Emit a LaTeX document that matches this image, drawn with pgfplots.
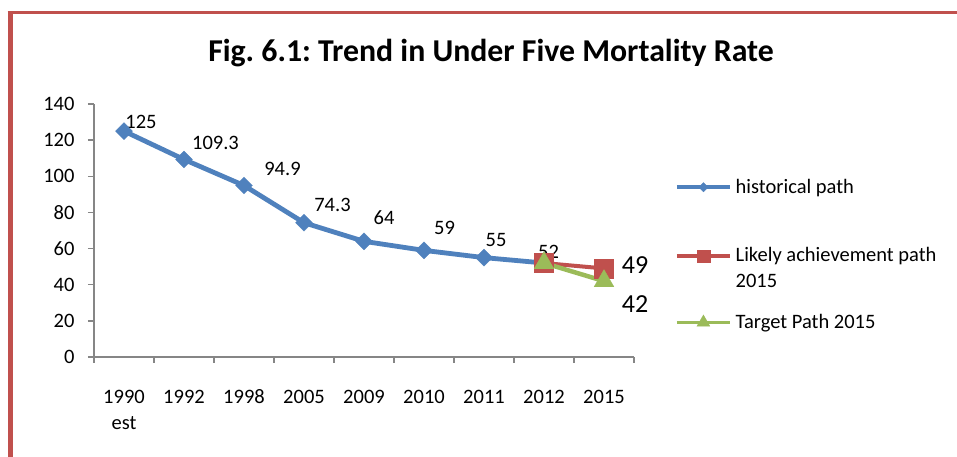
\documentclass[border=0pt]{standalone}
\usepackage{fontspec}
\setmainfont{Carlito}
\usepackage{pgfplots}
\pgfplotsset{compat=1.18}
\definecolor{hblue}{RGB}{79,129,189}
\definecolor{hred}{RGB}{192,80,77}
\definecolor{hgreen}{RGB}{155,187,89}
\definecolor{axgray}{RGB}{134,134,134}
\definecolor{frame}{RGB}{192,80,77}
\newcommand\lab{\fontsize{20.5bp}{26bp}\selectfont}
\newcommand\biglab{\fontsize{26bp}{30bp}\selectfont}
\newcommand\xs{\rule{0pt}{14bp}}
\frenchspacing

\begin{document}
\begin{tikzpicture}
\path[use as bounding box, fill=white] (0,0) rectangle (957bp,457bp);
\draw[frame, line width=3bp] (7.5bp,444.5bp) -- (957bp,444.5bp);
\draw[frame, line width=5bp] (10bp,0bp) -- (10bp,446bp);
\node[anchor=base, font=\fontsize{31.8bp}{36bp}\selectfont\bfseries] at (491bp,395bp)
  {Fig. 6.1: Trend in Under Five Mortality Rate};

\begin{axis}[
  scale only axis, width=540bp, height=253bp,
  at={(94bp,100bp)}, anchor=south west,
  xmin=-0.5, xmax=8.5, ymin=0, ymax=140,
  clip=false,
  axis x line*=bottom, axis y line*=left,
  axis line style={-, draw=axgray, line width=1.5bp},
  tick align=outside,
  ytick={0,20,...,140},
  major tick length=6bp, minor tick length=6bp,
  y tick style={draw=axgray, line width=1.5bp},
  xtick={0,...,8},
  xticklabels={{\xs1990\\est},\xs1992,\xs1998,\xs2005,\xs2009,\xs2010,\xs2011,\xs2012,\xs2015},
  minor xtick={-0.5,0.5,...,8.5},
  major x tick style={draw=none},
  minor x tick style={draw=axgray, line width=1.5bp},
  xticklabel style={font=\lab, align=center, anchor=north, yshift=-22.5bp},
  yticklabel style={font=\lab, xshift=-10bp},
  /pgf/number format/assume math mode=true,
  legend style={draw=none, fill=none, inner sep=0pt, row sep=26.8bp,
    at={(axis description cs:1.0759,0.6996)}, anchor=north west,
    nodes={inner sep=0pt, inner xsep=4bp, text height=13bp, text depth=,
      font=\lab, anchor=base west}},
  legend cell align=left,
  legend image code/.code={\draw[#1, mark repeat=2, mark phase=2]
    plot coordinates {(0bp,6bp)(26.5bp,6bp)(53bp,6bp)};},
]
\addlegendimage{hblue, line width=3.5bp, mark=square*,
  mark options={rotate=45, mark size=3.3bp, line width=0.3bp, fill=hblue}}
\addlegendentry{historical path\rule[-29bp]{0pt}{1bp}}
\addlegendimage{hred, line width=3.5bp, mark=square*,
  mark options={mark size=6.3bp, line width=0.3bp, fill=hred}}
\addlegendentry{\parbox[t]{230bp}{Likely achievement path\\2015}}
\addlegendimage{hgreen, line width=3.5bp, mark=triangle*,
  mark options={mark size=7.5bp, line width=0.3bp, fill=hgreen}}
\addlegendentry{Target Path 2015}

\addplot[forget plot, hblue, line width=4.8bp, mark=square*,
  mark options={rotate=45, mark size=6bp, line width=0.3bp, fill=hblue}]
  coordinates {(0,125)(1,109.3)(2,94.9)(3,74.3)(4,64)(5,59)(6,55)(7,52)};
\addplot[forget plot, hred, line width=4bp, mark=square*,
  mark options={mark size=9.5bp, line width=0.3bp, fill=hred}]
  coordinates {(7,52)(8,49)};
\addplot[forget plot, hgreen, line width=4.5bp, mark=triangle*,
  mark options={mark size=11.5bp, line width=0.3bp, fill=hgreen}]
  coordinates {(7,52)(8,42)};

\node[font=\lab, xshift=17bp, yshift=9.5bp] at (axis cs:0,125) {125};
\node[font=\lab, xshift=31.5bp, yshift=17bp] at (axis cs:1,109.3) {109.3};
\node[font=\lab, xshift=38.5bp, yshift=17bp] at (axis cs:2,94.9) {94.9};
\node[font=\lab, xshift=28.5bp, yshift=18bp] at (axis cs:3,74.3) {74.3};
\node[font=\lab, xshift=20bp, yshift=24bp] at (axis cs:4,64) {64};
\node[font=\lab, xshift=20.5bp, yshift=22bp] at (axis cs:5,59) {59};
\node[font=\lab, xshift=12bp, yshift=17.5bp] at (axis cs:6,55) {55};
\node[font=\lab, xshift=4.5bp, yshift=11.5bp] at (axis cs:7,52) {52};
\node[font=\biglab, xshift=31bp, yshift=3.5bp] at (axis cs:8,49) {49};
\node[font=\biglab, xshift=31bp, yshift=-22.5bp] at (axis cs:8,42) {42};
\end{axis}
\end{tikzpicture}
\end{document}
